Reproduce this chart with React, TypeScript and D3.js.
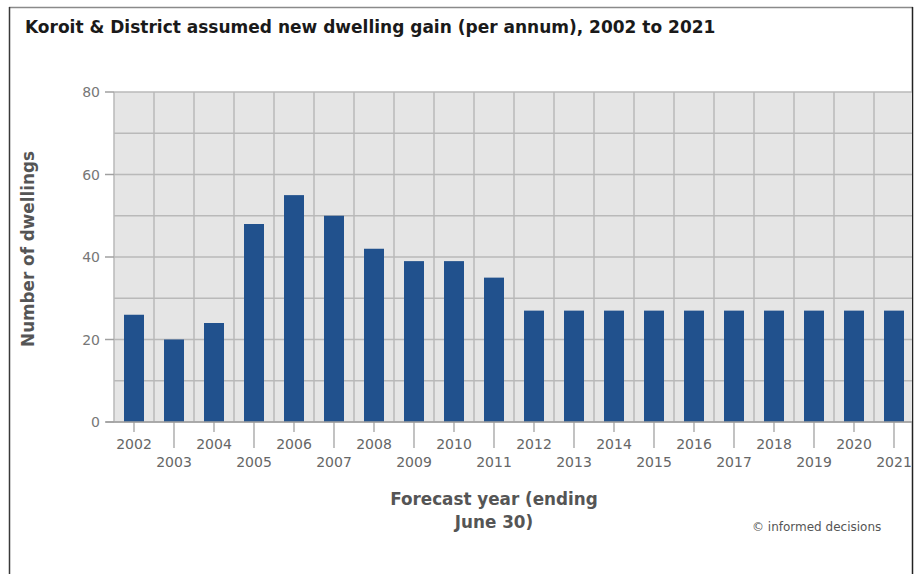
import React, { useEffect, useRef } from "react";
import * as d3 from "d3";

// Assumed new dwellings per year, Koroit & District
const years: string[] = [
  "2002", "2003", "2004", "2005", "2006", "2007", "2008", "2009", "2010", "2011",
  "2012", "2013", "2014", "2015", "2016", "2017", "2018", "2019", "2020", "2021",
];
const dwellings: number[] = [26, 20, 24, 48, 55, 50, 42, 39, 39, 35, 27, 27, 27, 27, 27, 27, 27, 27, 27, 27];
const yTicks: number[] = [0, 20, 40, 60, 80];
const yGrid: number[] = [0, 10, 20, 30, 40, 50, 60, 70, 80];

const W = 920;
const H = 574;
const FONT = "'DejaVu Sans', Verdana, sans-serif";

export default function App() {
  const ref = useRef<SVGSVGElement | null>(null);

  useEffect(() => {
    const svg = d3.select(ref.current);
    svg.selectAll("*").remove();

    const left = 114;
    const right = 914;
    const top = 92;
    const bottom = 422;

    const x = d3.scaleBand<string>().domain(years).range([left, right]).padding(0);
    const y = d3.scaleLinear().domain([0, 80]).range([bottom, top]);

    svg.append("rect").attr("width", W).attr("height", H).attr("fill", "#fff");

    // frame
    svg.append("line").attr("x1", 9).attr("x2", 913).attr("y1", 7.5).attr("y2", 7.5)
      .attr("stroke", "#8a8a8a").attr("stroke-width", 1.5);
    svg.append("line").attr("x1", 9.5).attr("x2", 9.5).attr("y1", 7).attr("y2", H)
      .attr("stroke", "#3a3a3a").attr("stroke-width", 1.5);
    svg.append("line").attr("x1", 912.5).attr("x2", 912.5).attr("y1", 7).attr("y2", H)
      .attr("stroke", "#222").attr("stroke-width", 1.5);

    svg.append("text")
      .attr("x", 25).attr("y", 33)
      .attr("font-family", FONT).attr("font-weight", "bold").attr("font-size", 17)
      .attr("fill", "#1a1a1a")
      .text("Koroit & District assumed new dwelling gain (per annum), 2002 to 2021");

    svg.append("defs").append("clipPath").attr("id", "plotClip")
      .append("rect").attr("x", 0).attr("y", 0).attr("width", 912).attr("height", H);

    const plot = svg.append("g").attr("clip-path", "url(#plotClip)");

    plot.append("rect")
      .attr("x", left).attr("y", top)
      .attr("width", right - left).attr("height", bottom - top)
      .attr("fill", "#e5e5e5");

    // horizontal grid
    plot.selectAll("line.hg").data(yGrid).join("line")
      .attr("class", "hg")
      .attr("x1", left).attr("x2", right)
      .attr("y1", (d) => y(d)).attr("y2", (d) => y(d))
      .attr("stroke", "#b9b9b9").attr("stroke-width", 1.5);

    // vertical grid on category boundaries
    const bounds = years.map((yr) => x(yr) as number);
    plot.selectAll("line.vg").data(bounds).join("line")
      .attr("class", "vg")
      .attr("x1", (d) => d).attr("x2", (d) => d)
      .attr("y1", top).attr("y2", bottom)
      .attr("stroke", "#b9b9b9").attr("stroke-width", 1.5);

    // bars
    const bw = x.bandwidth() * 0.5;
    plot.selectAll("rect.bar").data(years).join("rect")
      .attr("class", "bar")
      .attr("x", (d) => (x(d) as number) + x.bandwidth() / 2 - bw / 2)
      .attr("width", bw)
      .attr("y", (d, i) => y(dwellings[i]))
      .attr("height", (d, i) => y(0) - y(dwellings[i]))
      .attr("fill", "#21518d");

    // x axis line
    plot.append("line")
      .attr("x1", left - 8).attr("x2", right)
      .attr("y1", bottom).attr("y2", bottom)
      .attr("stroke", "#a0a0a0").attr("stroke-width", 1.5);

    // y ticks and labels
    svg.selectAll("line.yt").data(yTicks).join("line")
      .attr("class", "yt")
      .attr("x1", left - 9).attr("x2", left)
      .attr("y1", (d) => y(d)).attr("y2", (d) => y(d))
      .attr("stroke", "#a0a0a0").attr("stroke-width", 1.5);
    svg.selectAll("text.yl").data(yTicks).join("text")
      .attr("class", "yl")
      .attr("x", left - 14).attr("y", (d) => y(d) + 5)
      .attr("text-anchor", "end")
      .attr("font-family", FONT).attr("font-size", 14)
      .attr("fill", "#777")
      .text((d) => d);

    // x ticks alternate in length; odd-indexed labels sit on a second row
    const cx = (d: string) => (x(d) as number) + x.bandwidth() / 2;
    plot.selectAll("line.xt").data(years).join("line")
      .attr("class", "xt")
      .attr("x1", (d) => cx(d)).attr("x2", (d) => cx(d))
      .attr("y1", bottom).attr("y2", (d, i) => (i % 2 === 0 ? bottom + 10 : bottom + 26))
      .attr("stroke", "#9a9a9a").attr("stroke-width", 1.2);
    plot.selectAll("text.xl").data(years).join("text")
      .attr("class", "xl")
      .attr("x", (d) => cx(d))
      .attr("y", (d, i) => (i % 2 === 0 ? 449 : 467))
      .attr("text-anchor", "middle")
      .attr("font-family", FONT).attr("font-size", 14)
      .attr("fill", "#666")
      .text((d) => d);

    // axis titles
    svg.append("text")
      .attr("transform", "translate(34,249) rotate(-90)")
      .attr("text-anchor", "middle")
      .attr("font-family", FONT).attr("font-weight", "bold").attr("font-size", 16.8)
      .attr("fill", "#555")
      .text("Number of dwellings");

    const xt = svg.append("text")
      .attr("text-anchor", "middle")
      .attr("font-family", FONT).attr("font-weight", "bold").attr("font-size", 16.8)
      .attr("fill", "#555");
    xt.append("tspan").attr("x", 494).attr("y", 505).text("Forecast year (ending");
    xt.append("tspan").attr("x", 494).attr("y", 528).text("June 30)");

    svg.append("text")
      .attr("x", 752).attr("y", 531)
      .attr("font-family", FONT).attr("font-size", 12)
      .attr("fill", "#555")
      .text("© informed decisions");
  }, []);

  return (
    <svg
      ref={ref}
      width={W}
      height={H}
      style={{ position: "absolute", left: 0, top: 0, display: "block" }}
    />
  );
}
